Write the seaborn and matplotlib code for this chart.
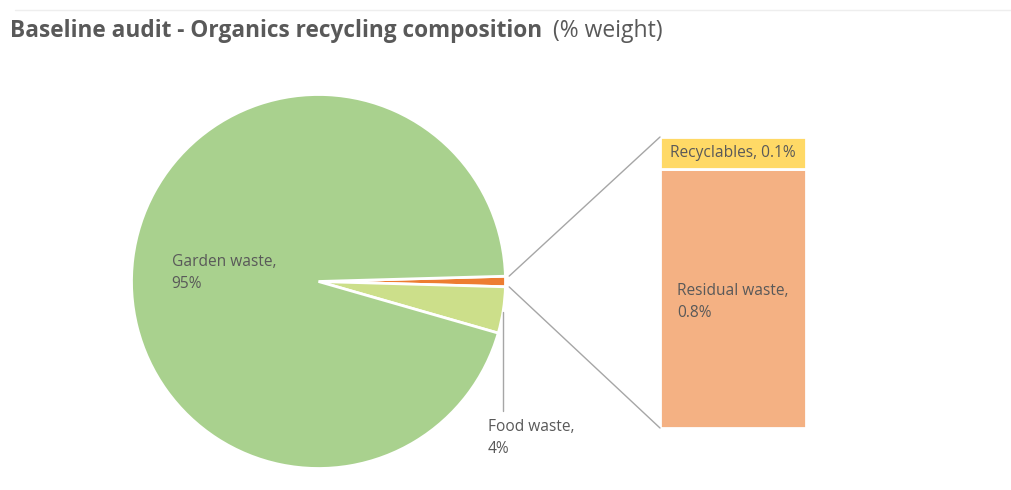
import numpy as np
import matplotlib.pyplot as plt
from matplotlib.patches import ConnectionPatch
from matplotlib.lines import Line2D
import seaborn as sns

# data
pie_labels = ["Other", "Food waste", "Garden waste"]
pie_values = [0.9, 4.0, 95.1]
pie_texts = ["", "4%", "95%"]
bar_labels = ["Residual waste", "Recyclables"]
bar_values = [0.8, 0.1]
bar_texts = ["0.8%", "0.1%"]

pie_colors = ["#ED7D31", "#CCDF8A", "#A9D18E"]
bar_colors = ["#F4B183", "#FFD966"]
txt = "#595959"

sns.set_theme(style="white")
plt.rcParams['font.family'] = ['Open Sans', 'DejaVu Sans']

W, H = 1011, 490
fig = plt.figure(figsize=(W / 100, H / 100), dpi=100)

def box(x0, y0, x1, y1):
    # pixel box (top-left origin) -> figure fraction
    return [x0 / W, 1 - y1 / H, (x1 - x0) / W, (y1 - y0) / H]

# pie
ax_pie = fig.add_axes(box(131.5, 94.5, 505.5, 468.5))
start = pie_values[0] / sum(pie_values) * 360 / 2
wedges, _ = ax_pie.pie(pie_values, colors=pie_colors, startangle=start,
                       counterclock=False, radius=1,
                       wedgeprops=dict(edgecolor="white", linewidth=2))
ax_pie.set_xlim(-1, 1)
ax_pie.set_ylim(-1, 1)
ax_pie.set_aspect("equal")
ax_pie.axis("off")

# garden label
ax_pie.text(-0.785, 0.045, f"{pie_labels[2]},\n{pie_texts[2]}", ha="left", va="center",
            fontsize=11.2, color=txt, linespacing=1.5)

# food label with leader
fw = wedges[1]
mid = np.deg2rad((fw.theta1 + fw.theta2) / 2)
ex, ey = np.cos(mid), np.sin(mid)
ax_pie.plot([ex, ex], [ey - 0.01, -0.69], color="#A6A6A6", lw=1, clip_on=False)
ax_pie.text(0.905, -0.735, f"{pie_labels[1]},\n{pie_texts[1]}", ha="left", va="top",
            fontsize=11.2, color=txt, linespacing=1.5, clip_on=False)

# bar of pie
ax_bar = fig.add_axes(box(660, 137, 806, 428))
sns.barplot(x=["Other"], y=[bar_values[0]], color=bar_colors[0], width=0.8,
            saturation=1, edgecolor="white", linewidth=2, ax=ax_bar)
sns.barplot(x=["Other"], y=[bar_values[1]], bottom=[bar_values[0]], color=bar_colors[1],
            width=0.8, saturation=1, edgecolor="white", linewidth=2, ax=ax_bar)
ax_bar.set_xlim(-0.4, 0.4)
ax_bar.set_ylim(0, sum(bar_values))
ax_bar.axis("off")

ax_bar.text(0, bar_values[0] / 2 - 0.01, f"{bar_labels[0]},\n{bar_texts[0]}", ha="center",
            va="center", multialignment="left", fontsize=11.2, color=txt, linespacing=1.5)
ax_bar.text(0, bar_values[0] + bar_values[1] / 2, f"{bar_labels[1]}, {bar_texts[1]}",
            ha="center", va="center", fontsize=11.2, color=txt)

# connector lines
ow = wedges[0]
r = 1.02
for ang, yb in [(ow.theta2, sum(bar_values)), (ow.theta1, 0)]:
    a = np.deg2rad(ang)
    con = ConnectionPatch(xyA=(r * np.cos(a), r * np.sin(a)), coordsA=ax_pie.transData,
                          xyB=(-0.4, yb), coordsB=ax_bar.transData,
                          color="#A6A6A6", lw=1)
    fig.add_artist(con)

# title
t1 = fig.text(10 / W, 1 - 31 / H, "Baseline audit - Organics recycling composition",
              fontsize=16.3, fontweight="bold", color=txt, va="center", ha="left")
fig.canvas.draw()
bb = t1.get_window_extent()
fig.text((bb.x1 + 11) / W, 1 - 31 / H, "(% weight)", fontsize=16.5, color=txt,
         va="center", ha="left")

# faint chart border
fig.add_artist(Line2D([15 / W, 1], [1 - 10 / H, 1 - 10 / H], color="#EEEEEE", lw=1))

plt.savefig("out.png", dpi=100)
